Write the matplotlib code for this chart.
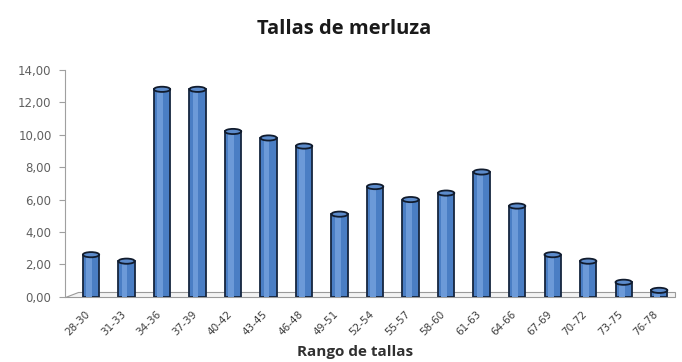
import matplotlib
matplotlib.use("Agg")
import matplotlib.pyplot as plt
import matplotlib.transforms as mtransforms
from matplotlib.patches import Ellipse, Polygon

categories = ["28-30", "31-33", "34-36", "37-39", "40-42", "43-45", "46-48", "49-51",
              "52-54", "55-57", "58-60", "61-63", "64-66", "67-69", "70-72", "73-75", "76-78"]
values = [2.6, 2.2, 12.8, 12.8, 10.2, 9.8, 9.3, 5.1, 6.8, 6.0, 6.4, 7.7, 5.6, 2.6, 2.2, 0.9, 0.4]
yticks = [0, 2, 4, 6, 8, 10, 12, 14]
ytick_labels = ["0,00", "2,00", "4,00", "6,00", "8,00", "10,00", "12,00", "14,00"]

plt.rcParams['font.family'] = ['Open Sans', 'DejaVu Sans']

fig = plt.figure(figsize=(6.82, 3.62), dpi=100)
ax = fig.add_axes([0.096, 0.18, 0.894, 0.627])

x = list(range(len(categories)))
bw = 0.46
ax.bar(x, values, width=bw, color="#4A7EC4", edgecolor="#16263F", linewidth=1.3, zorder=3)
ax.bar([xi - bw * 0.12 for xi in x], values, width=bw * 0.35, color="#6C9AD8", linewidth=0, zorder=3.5)

cap_h = 0.32
for xi, v in zip(x, values):
    ax.add_patch(Ellipse((xi, v), bw, cap_h, facecolor="#5C8BCB", edgecolor="#111C2E",
                         linewidth=1.3, zorder=4))

ax.set_xlim(-0.72, 16.45)
ax.set_ylim(0, 14)

floor = Polygon([[0.0, 0.0], [1.0, 0.0], [1.0, 0.02], [0.02, 0.02]], closed=True,
                transform=ax.transAxes, facecolor="#F3F3F3", edgecolor="#9A9A9A",
                linewidth=0.8, zorder=1, clip_on=False)
ax.add_patch(floor)

for s in ["top", "right", "bottom"]:
    ax.spines[s].set_visible(False)
ax.spines["left"].set_color("#A0A0A0")
ax.spines["left"].set_linewidth(0.8)

ax.set_yticks(yticks)
ax.set_yticklabels(ytick_labels, fontsize=8.5, color="#606060", family=["DejaVu Sans"])
ax.tick_params(axis="y", length=4, color="#A0A0A0", pad=6)
ax.set_xticks(x)
ax.set_xticklabels(categories, rotation=45, ha="right", rotation_mode="anchor",
                   fontsize=7.5, color="#404040", family=["DejaVu Sans"])
ax.tick_params(axis="x", length=0, pad=9)
offset = mtransforms.ScaledTranslation(-6 / 100, 0, fig.dpi_scale_trans)
for lab in ax.get_xticklabels():
    lab.set_transform(lab.get_transform() + offset)

fig.text(0.52, 0.027, "Rango de tallas", ha="center", va="center",
         fontsize=11, fontweight="bold", color="#303030")
fig.text(0.505, 0.92, "Tallas de merluza", ha="center", va="center",
         fontsize=14.5, fontweight="bold", color="#1A1A1A")

fig.savefig("out.png", dpi=100)
